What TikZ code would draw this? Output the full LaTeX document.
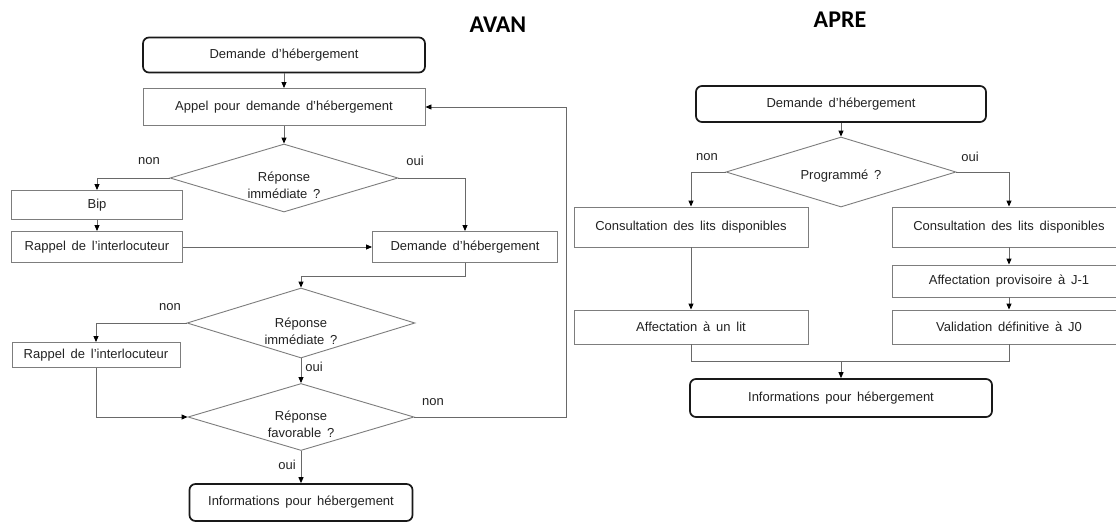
\documentclass[tikz,border=0pt]{standalone}
\usepackage{fontspec}
\setmainfont{Liberation Sans}[WordSpace=1.6]
\newfontfamily\titlefont{Carlito}
\usetikzlibrary{shapes.geometric,arrows.meta}
\definecolor{boxgray}{RGB}{125,125,125}
\definecolor{linegray}{RGB}{105,105,105}
\definecolor{txt}{RGB}{35,35,35}
\begin{document}
\begin{tikzpicture}[x=1pt,y=-1pt,
  every node/.style={text=txt, font=\fontsize{13}{17}\selectfont},
  box/.style={draw=boxgray, line width=0.9pt, rectangle, inner sep=0pt, fill=white},
  rbox/.style={draw=black!90, line width=1.7pt, rectangle, rounded corners=6pt, inner sep=0pt, fill=white},
  dia/.style={draw=boxgray, line width=0.9pt, diamond, inner sep=0pt},
  dtext/.style={align=center, inner sep=0pt},
  lbl/.style={inner sep=0pt},
  titl/.style={font=\titlefont\bfseries\fontsize{24}{28}\selectfont, text=black, inner sep=0pt},
  conn/.style={draw=linegray, line width=0.9pt},
  arr/.style={conn, -{Triangle[length=6pt,width=5pt,color=black]}}]
\useasboundingbox (0,0) rectangle (1116,522);
\clip (0,0) rectangle (1116,522);
\fill[white] (0,0) rectangle (1116,522);

% titles
\node[titl] (avan) at (498,25) {AVAN};
\node[titl] (apre) at (840,20) {APRE};

% ---------- AVAN ----------
\node[rbox, minimum width=282, minimum height=35] (d1) at (284,55) {Demande d'hébergement};
\node[box, minimum width=282, minimum height=37] (appel) at (284,107) {Appel pour demande d'hébergement};
\node[dia, minimum width=228, minimum height=68] (q1) at (284,178) {};
\node[dtext] (q1t) at (284,185) {Réponse\\immédiate ?};
\node[box, minimum width=171, minimum height=29] (bip) at (97,205) {Bip};
\node[box, minimum width=171, minimum height=31] (rap1) at (97,247) {Rappel de l'interlocuteur};
\node[box, minimum width=185, minimum height=31] (dem2) at (465,247) {Demande d'hébergement};
\node[dia, minimum width=228, minimum height=70] (q2) at (301,323) {};
\node[dtext] (q2t) at (301,331) {Réponse\\immédiate ?};
\node[box, minimum width=168, minimum height=25] (rap2) at (96,355) {Rappel de l'interlocuteur};
\node[dia, minimum width=226, minimum height=67] (q3) at (301,417) {};
\node[dtext] (q3t) at (301,424) {Réponse\\favorable ?};
\node[rbox, minimum width=223, minimum height=37] (f1) at (301,502.5) {Informations pour hébergement};

\node[lbl] (n1) at (149,161) {non};
\node[lbl] (o1) at (415,161) {oui};
\node[lbl] (n2) at (170,307) {non};
\node[lbl] (o2) at (314,367) {oui};
\node[lbl] (n3) at (433,402) {non};
\node[lbl] (o3) at (287,465) {oui};

\draw[arr] (d1.south) -- (appel.north);
\draw[arr] (appel.south) -- (q1.north);
\draw[arr] (q1.west) -| (bip.north);
\draw[arr] (bip.south) -- (rap1.north);
\draw[arr] (rap1.east) -- (dem2.west);
\draw[arr] (q1.east) -| (dem2.north);
\draw[arr] (dem2.south) -- ++(0,13) -| (q2.north);
\draw[arr] (q2.west) -| (rap2.north);
\draw[arr] (rap2.south) |- (q3.west);
\draw[arr] (q2.south) -- (q3.north);
\draw[arr] (q3.south) -- (f1.north);
\coordinate (fb) at (566,417);
\draw[arr] (q3.east) -- (fb) |- (appel.east);

% ---------- APRE ----------
\node[rbox, minimum width=290, minimum height=36] (d3) at (841,104) {Demande d'hébergement};
\node[dia, minimum width=230, minimum height=70] (q4) at (841,172) {};
\node[dtext] (q4t) at (841,176) {Programmé ?};
\node[box, minimum width=234, minimum height=40] (c1) at (691,227) {Consultation des lits disponibles};
\node[box, minimum width=234, minimum height=40] (c2) at (1009,227) {Consultation des lits disponibles};
\node[box, minimum width=234, minimum height=32] (a2) at (1009,281) {Affectation provisoire à J-1};
\node[box, minimum width=234, minimum height=34] (v2) at (1009,327) {Validation définitive à J0};
\node[box, minimum width=234, minimum height=34] (a1) at (691,327) {Affectation à un lit};
\node[rbox, minimum width=302, minimum height=38] (f2) at (841,398) {Informations pour hébergement};

\node[lbl] (n4) at (707,157) {non};
\node[lbl] (o4) at (970,157) {oui};

\draw[arr] (d3.south) -- (q4.north);
\draw[arr] (q4.west) -| (c1.north);
\draw[arr] (q4.east) -| (c2.north);
\draw[arr] (c1.south) -- (a1.north);
\draw[arr] (c2.south) -- (a2.north);
\draw[arr] (a2.south) -- (v2.north);
\draw[conn] (a1.south) -- ++(0,17) -| (v2.south);
\coordinate (mm) at (841,361);
\draw[arr] (mm) -- (f2.north);
\end{tikzpicture}
\end{document}
